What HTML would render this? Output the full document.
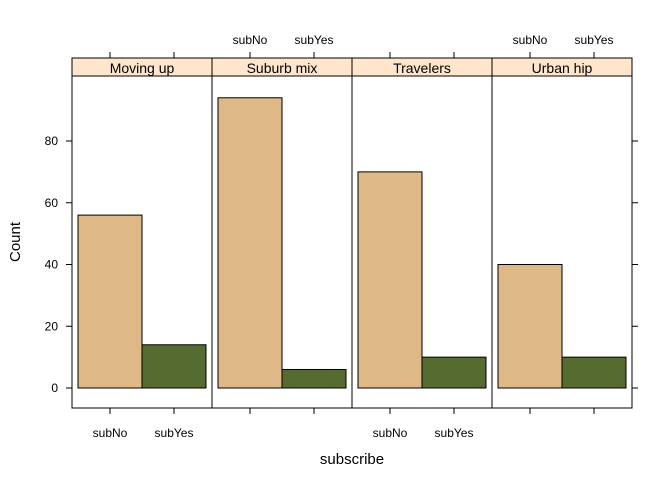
<!DOCTYPE html>
<html><head><meta charset="utf-8"><style>body{margin:0;background:#fff}svg{display:block;font-family:"Liberation Sans",sans-serif}</style></head>
<body>
<svg id="c" width="672" height="480"></svg>
<script>
const panels=["Moving up","Suburb mix","Travelers","Urban hip"];
const categories=["subNo","subYes"];
const subNo=[56,94,70,40];
const subYes=[14,6,10,10];
const yTicks=[0,20,40,60,80];
const svg=document.getElementById('c');const NS="http://www.w3.org/2000/svg";
function el(t,a,txt){const e=document.createElementNS(NS,t);for(const k in a)e.setAttribute(k,a[k]);if(txt!==undefined)e.textContent=txt;svg.appendChild(e);return e;}
const L=72,R=632,panelTop=76,bot=408,stripTop=58;
const pw=(R-L)/panels.length;
const y=v=>388-v*3.0875;
const colors=["#DEB887","#556B2F"];
panels.forEach((p,i)=>{
 const x0=L+i*pw;
 const s=el('rect',{x:x0,y:stripTop,width:pw,height:panelTop-stripTop,fill:'#FFE5CC',stroke:'#000'});
 
 
 const t=el('text',{x:x0+pw/2,y:stripTop+15,'text-anchor':'middle','font-size':14},p);
 
 
 const fr=el('rect',{x:x0,y:panelTop,width:pw,height:bot-panelTop,fill:'none',stroke:'#000'});
 
 
 const vals=[subNo[i],subYes[i]];
 vals.forEach((v,j)=>{
  const cx=x0+pw/2+(j-0.5)*64;
  const b=el('rect',{x:cx-32,y:y(v),width:64,height:y(0)-y(v),fill:colors[j],stroke:'#000'});
  
  
  el('line',{x1:cx,x2:cx,y1:bot,y2:bot+6,stroke:'#000'});
  el('line',{x1:cx,x2:cx,y1:stripTop-6,y2:stripTop,stroke:'#000'});
  if(i%2===0){const l=el('text',{x:cx,y:437,'text-anchor':'middle','font-size':12},categories[j]);
   
   }
  else{const l=el('text',{x:cx,y:44,'text-anchor':'middle','font-size':12},categories[j]);
   
   }
 });
});
yTicks.forEach(v=>{
 el('line',{x1:L-6,x2:L,y1:y(v),y2:y(v),stroke:'#000'});
 el('line',{x1:R,x2:R+6,y1:y(v),y2:y(v),stroke:'#000'});
 const t=el('text',{x:L-14,y:y(v)+4,'text-anchor':'end','font-size':12},v);
 
 
});
const yt=el('text',{x:0,y:0,'text-anchor':'middle','font-size':15,transform:'translate(20,242) rotate(-90)'},'Count');


const xt=el('text',{x:352,y:464,'text-anchor':'middle','font-size':15},'subscribe');


</script>
</body></html>
